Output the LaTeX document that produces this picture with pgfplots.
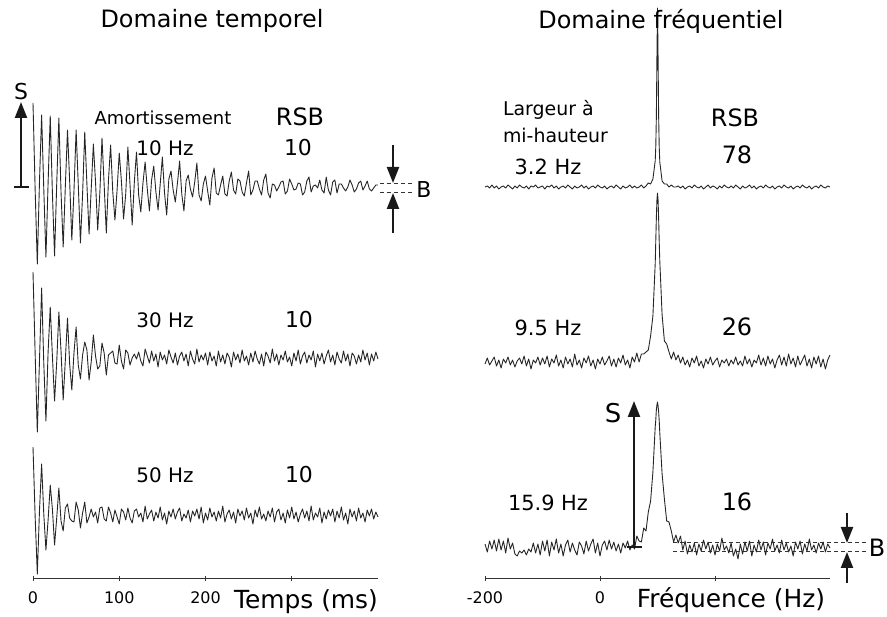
\documentclass[border=0pt]{standalone}
\usepackage{fontspec}
\setmainfont{DejaVu Sans}
\usepackage{pgfplots}
\usepackage{pgfplotstable}
\pgfplotsset{compat=1.18}
\usetikzlibrary{arrows.meta}

% FID signals (relative to each trace's baseline), time in ms
\pgfplotstableread{
t a b c
0 84 86 68
2.5 -3 4 -2
5 -77 -74 -59
7.5 5 -3 4
10 72 70 51
12.5 -2 -5 1
15 -70 -63 -35
17.5 4 6 -5
20 71 51 30
22.5 -6 2 6
25 -69 -43 -30
27.5 3 -4 -3
30 69 46 27
32.5 -5 7 -6
35 -60 -42 -16
37.5 1 -2 7
40 57 40 11
42.5 6 -6 -3
45 -53 -32 -6
47.5 -4 5 -7
50 57 31 13
52.5 2 -7 5
55 -56 -21 -13
57.5 -7 3 2
60 55 16 13
62.5 3 8 -8
65 -47 -22 -2
67.5 -2 -4 6
70 43 23 -2
72.5 5 2 3
75 -43 -11 -8
77.5 -6 -8 7
80 49 15 8
82.5 2 5 -4
85 -46 -17 -6
87.5 7 3 8
90 42 5 2
92.5 -5 7 -7
95 -33 -5 5
97.5 -3 -6 -2
100 34 13 -9
102.5 6 -3 6
105 -32 -11 3
107.5 -7 8 -5
110 40 5 7
112.5 2 -7 -3
115 -38 0 -8
117.5 5 4 4
120 35 -1 6
122.5 -8 6 -2
125 -25 -3 2
127.5 4 -8 -7
130 25 9 9
132.5 -2 2 -4
135 -24 -5 1
137.5 7 7 5
140 21 -3 -6
142.5 -5 4 3
145 -23 -9 -3
147.5 3 6 8
150 30 -2 -5
152.5 -6 3 2
155 -28 -6 -9
157.5 8 8 4
160 16 1 -2
162.5 -3 -5 6
165 -15 5 -4
167.5 4 -7 3
170 26 2 7
172.5 -7 6 -6
175 -24 -3 1
177.5 6 4 -3
180 12 -8 5
182.5 -2 7 -7
185 -10 -1 4
187.5 5 -6 -1
190 24 9 6
192.5 -8 -4 -4
195 -14 3 8
197.5 3 -2 -8
200 11 5 2
202.5 -4 -7 -5
205 -18 6 7
207.5 9 -3 -2
210 19 2 3
212.5 -6 -8 -6
215 -8 7 4
217.5 2 -4 -3
220 11 3 9
222.5 -7 -6 -7
225 -9 5 1
227.5 6 1 5
230 15 -9 -4
232.5 -3 6 3
235 -7 -2 -8
237.5 8 4 6
240 6 -5 -1
242.5 -5 8 4
245 -9 -3 -5
247.5 4 2 7
250 16 -7 -3
252.5 -8 5 2
255 -3 -4 -9
257.5 6 7 5
260 6 -1 -2
262.5 -2 -6 8
265 -8 4 -4
267.5 7 -8 1
270 13 6 -6
272.5 -6 2 4
275 -11 -5 -2
277.5 3 9 7
280 2 -3 -7
282.5 -4 4 3
285 0 -7 6
287.5 5 3 -5
290 6 -2 2
292.5 -7 7 -8
295 -4 -4 5
297.5 8 1 -3
300 3 -8 8
302.5 -3 5 -4
305 -2 -3 3
307.5 4 8 -7
310 3 -6 1
312.5 -8 2 6
315 -5 6 -3
317.5 6 -5 4
320 10 3 -6
322.5 -5 -2 9
325 1 7 -5
327.5 2 -9 2
330 -1 4 -2
332.5 7 -3 7
335 -3 5 -8
337.5 -6 -6 3
340 10 2 -4
342.5 -3 8 5
345 -8 -4 -1
347.5 5 3 6
350 7 -7 -7
352.5 -6 6 4
355 3 -1 -3
357.5 3 -5 8
360 -1 7 -5
362.5 -4 -3 2
365 0 4 -9
367.5 7 -8 6
370 2 5 -2
372.5 -5 2 4
375 -2 -6 -6
377.5 4 3 7
380 6 -4 -3
382.5 -3 8 2
385 1 -2 -7
387.5 6 5 5
390 -2 -7 -1
392.5 -4 4 6
395 -1 -3 -4
397.5 2 6 3
400 2 -1 -2
}\fid

% Spectra (relative to each trace's baseline), frequency in Hz
\pgfplotstableread{
f a b c
-200 0 -2 3
-196 1 4 -5
-192 -1 -3 6
-188 2 1 -2
-184 -1 5 7
-180 1 -4 -4
-176 -2 2 8
-172 0 -6 -3
-168 1 3 6
-164 -1 -1 -6
-160 2 5 9
-156 0 -3 -2
-152 -2 2 4
-148 1 -5 -7
-144 -1 1 -9
-140 2 4 -4
-136 0 -2 -6
-132 -1 6 -3
-128 1 -4 -8
-124 -2 3 -2
-120 1 -7 -5
-116 0 2 4
-112 2 -1 -6
-108 -1 5 3
-104 0 -3 -8
-100 1 4 6
-96 -2 -2 -4
-92 1 6 7
-88 0 -5 -9
-84 2 3 5
-80 -1 -1 -3
-76 1 7 8
-72 -2 -4 -6
-68 0 2 3
-64 1 -6 -9
-60 -1 5 2
-56 2 -2 7
-52 0 3 -5
-48 -2 -5 4
-44 1 8 -3
-40 -1 -3 -8
-36 0 2 5
-32 2 -6 1
-28 -1 4 -7
-24 1 -1 6
-20 -2 6 -4
-16 0 -4 3
-12 1 2 8
-8 -1 -7 -6
-4 2 3 4
0 0 -2 -9
4 -1 5 2
8 1 -3 6
12 -2 1 -3
16 0 6 7
20 1 -4 -2
24 -1 3 5
28 2 -5 -4
32 0 4 3
36 -2 -1 -6
40 1 7 4
44 -1 -3 -1
48 0 2 6
52 2 -6 -3
56 -1 5 2
60 1 0 -2
64 -1 9 11
68 0 0 6
72 2 8 5
76 -1 8 19
80 1 10 16
84 4 12 35
88 3 26 46
92 8 46 75
96 26 98 120
97 40 121 127
98 70 144 137
99 129 162 142
100 179 169 145
101 129 162 141
102 70 143 135
103 40 120 126
104 25 101 114
108 6 47 73
112 3 21 48
116 3 18 26
120 0 10 25
124 2 3 16
128 0 10 5
132 0 2 12
136 1 7 4
140 -1 -1 11
144 1 5 -3
148 -2 -3 6
152 0 2 -7
156 1 -5 2
160 -1 4 -5
164 2 -1 4
168 0 6 -8
172 -1 -4 3
176 1 1 -4
180 -2 -6 7
184 0 3 -2
188 2 -2 5
192 -1 5 -6
196 1 -3 2
200 0 1 -8
204 -2 4 3
208 1 -5 -4
212 -1 2 9
216 2 -1 -3
220 0 3 1
224 -1 -4 -6
228 1 2 4
232 -1 -2 -9
236 2 5 -2
240 0 -3 -12
244 -2 1 3
248 1 -4 -7
252 -1 6 5
256 0 -2 -4
260 2 3 6
264 -1 -5 -9
268 1 2 2
272 -2 -1 -5
276 0 7 7
280 1 -3 -3
284 -1 4 5
288 2 -4 -8
292 0 6 4
296 -1 -2 -2
300 1 3 8
304 -2 -6 -4
308 0 2 2
312 1 7 -6
316 -1 -3 7
320 2 5 -3
324 0 -4 4
328 -1 8 -5
332 1 -2 1
336 -2 4 -9
340 0 -5 5
344 1 6 -2
348 -1 -3 6
352 2 2 -7
356 0 7 3
360 -1 -4 -4
364 1 3 8
368 -2 -6 -3
372 0 5 2
376 1 -2 -6
380 -1 6 4
384 2 -5 -2
388 0 3 5
392 -1 -7 -5
396 1 2 3
400 0 7 -1
}\spec

\newcommand{\fs}[1]{\fontsize{#1}{#1}\selectfont}

\begin{document}
\begin{tikzpicture}
\path[use as bounding box] (0,0) rectangle (443.5bp,-308.5bp);
\pgfplotsset{
  panel/.style={
    scale only axis, width=172.5bp, height=289bp, anchor=south west,
    ymin=0, ymax=578, clip=false,
    axis x line=bottom, axis y line=none,
    axis line style={-, line width=0.5pt, black!80},
    tick style={black!80, line width=0.4pt}, major tick length=2.5bp, tick align=center,
    minor tick num=0,
    xticklabel style={font=\fs{8}, text=black, yshift=-2bp},
    /pgf/number format/assume math mode=true,
  },
  trace/.style={line width=0.45pt, black!85, line join=round},
}
\begin{axis}[panel, at={(16.5bp,-289bp)}, xmin=0, xmax=400,
  xtick={0,100,200,300}, xticklabels={0,100,200,{}}]
\addplot[trace] table[x=t, y expr=\thisrow{a}+391] {\fid};
\addplot[trace] table[x=t, y expr=\thisrow{b}+220] {\fid};
\addplot[trace] table[x=t, y expr=\thisrow{c}+63] {\fid};
\end{axis}
\begin{axis}[panel, at={(242.5bp,-289bp)}, xmin=-200, xmax=400,
  xtick={-200,0,200}, xticklabels={-200,0,{}}]
\addplot[trace] table[x=f, y expr=\thisrow{a}+391] {\spec};
\addplot[trace] table[x=f, y expr=\thisrow{b}+216] {\spec};
\addplot[trace] table[x=f, y expr=\thisrow{c}+31] {\spec};
\end{axis}

\begin{scope}[x=0.5bp, y=-0.5bp, every node/.style={text=black}]
% titles
\node[font=\fs{12}] at (212,21) {Domaine temporel};
\node[font=\fs{12}] at (661,21) {Domaine fréquentiel};
% left panel annotations
\node[font=\fs{9}] at (163,118) {Amortissement};
\node[font=\fs{12}] at (300,117) {RSB};
\node[font=\fs{10}] at (165,148) {10 Hz};
\node[font=\fs{11}] at (298,148) {10};
\node[font=\fs{10}] at (165,320) {30 Hz};
\node[font=\fs{11}] at (299,320) {10};
\node[font=\fs{10}] at (165,475) {50 Hz};
\node[font=\fs{11}] at (299,475) {10};
\node[font=\fs{12.5}] at (306,602) {Temps (ms)};
% S arrow left
\draw[line width=1.1bp, black!90, -{Triangle[length=8bp,width=6bp]}] (21,187) -- (21,102);
\draw[line width=1bp, black!90] (14,187) -- (29,187);
\node[font=\fs{11}] at (21,92) {S};
% B left
\draw[line width=1.1bp, black!90, -{Triangle[length=8bp,width=6bp]}] (393,145) -- (393,183);
\draw[line width=1.1bp, black!90, -{Triangle[length=8bp,width=6bp]}] (393,233) -- (393,193);
\draw[line width=0.5bp, black!80, dash pattern=on 2bp off 1.5bp] (380,184) -- (412,184);
\draw[line width=0.5bp, black!80, dash pattern=on 2bp off 1.5bp] (380,193) -- (412,193);
\node[font=\fs{11}] at (424,190) {B};
% right panel annotations
\node[font=\fs{9.5}, anchor=west] at (496,110) {Largeur à};
\node[font=\fs{9.5}, anchor=west] at (496,135) {mi-hauteur};
\node[font=\fs{10.5}] at (548,167) {3.2 Hz};
\node[font=\fs{12}] at (735,118) {RSB};
\node[font=\fs{12}] at (737,155) {78};
\node[font=\fs{10.5}] at (548,328) {9.5 Hz};
\node[font=\fs{12}] at (737,327) {26};
\node[font=\fs{10.5}] at (548,503) {15.9 Hz};
\node[font=\fs{12}] at (737,502) {16};
\node[font=\fs{12.5}] at (731,600) {Fréquence (Hz)};
% S arrow right
\draw[line width=1.1bp, black!90, -{Triangle[length=8bp,width=6bp]}] (634,547) -- (634,401);
\draw[line width=1bp, black!90] (627,547) -- (642,547);
\node[font=\fs{13}] at (613,413) {S};
% B right
\draw[line width=1.1bp, black!90, -{Triangle[length=8bp,width=6bp]}] (847,513) -- (847,543);
\draw[line width=1.1bp, black!90, -{Triangle[length=8bp,width=6bp]}] (847,583) -- (847,552);
\draw[line width=0.5bp, black!80, dash pattern=on 2bp off 1.5bp] (673,543) -- (868,543);
\draw[line width=0.5bp, black!80, dash pattern=on 2bp off 1.5bp] (673,552) -- (868,552);
\node[font=\fs{12}, inner sep=1bp] at (877,548) {B};
\end{scope}
\end{tikzpicture}
\end{document}
